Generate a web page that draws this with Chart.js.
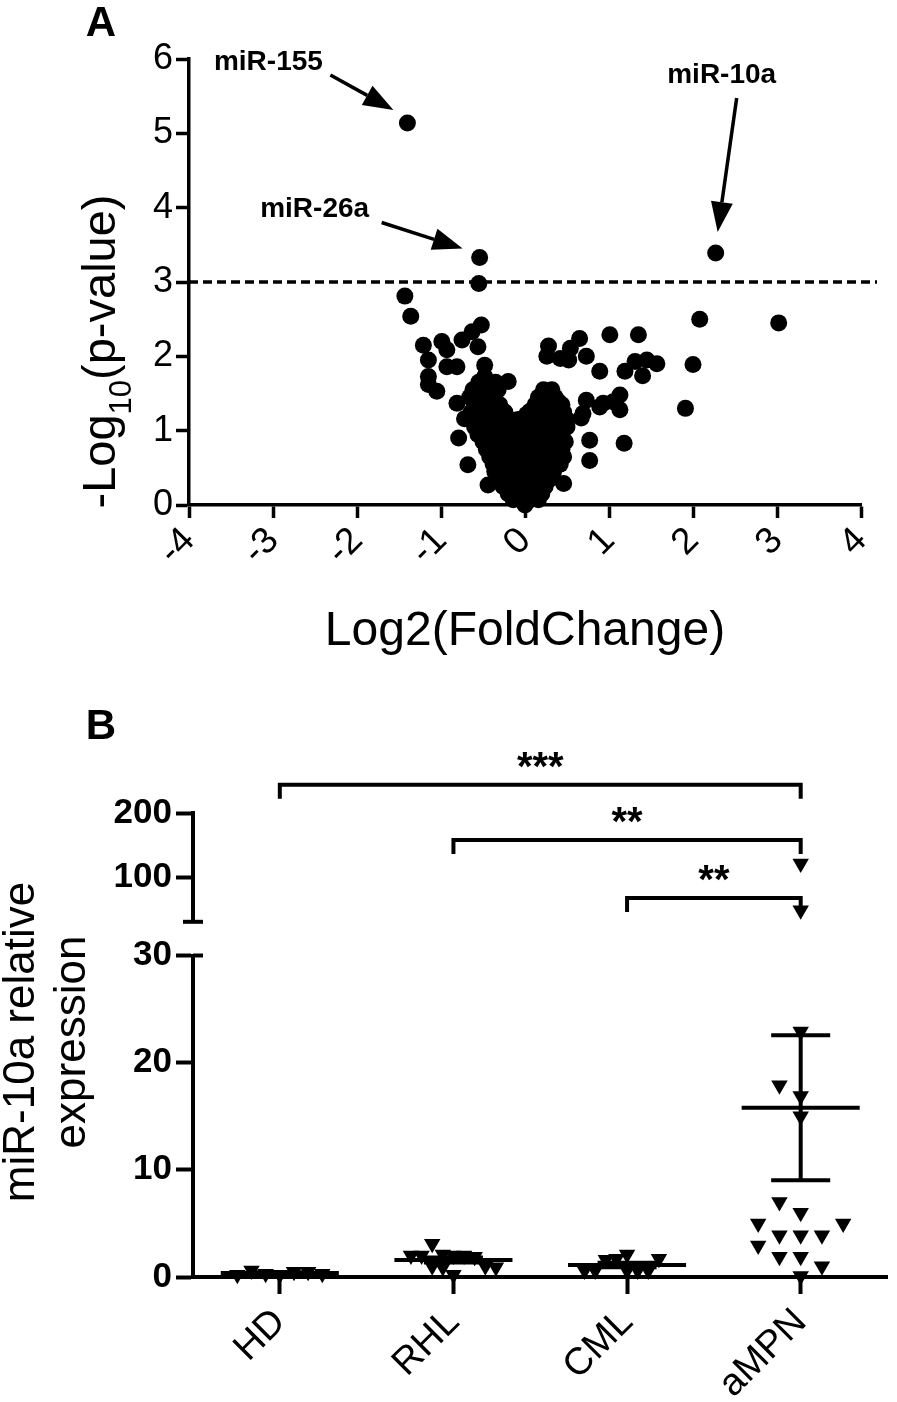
<!DOCTYPE html>
<html>
<head>
<meta charset="utf-8">
<script src="https://cdn.jsdelivr.net/npm/chart.js@4/dist/chart.umd.min.js"></script>
<style>
  html, body { margin: 0; padding: 0; background: #fff; }
  #page { position: relative; width: 897px; height: 1402px; overflow: hidden; }
  canvas { position: absolute; left: 0; }
</style>
</head>
<body>
<div id="page">
  <canvas id="volcano" width="897" height="656" style="top:0"></canvas>
  <canvas id="exprLow" width="897" height="702" style="top:700px"></canvas>
  <canvas id="exprHigh" width="897" height="260" style="top:700px"></canvas>
</div>
<script>
// ---- panel A : volcano plot ----
var foldTicks = [-4, -3, -2, -1, 0, 1, 2, 3, 4];
var pThreshold = 3;

// [log2 fold change, -log10 p]
var volcano = [
  [-1.40,5.14],[-0.54,3.33],[2.27,3.39],[-0.55,2.98],[-1.43,2.81],[-1.36,2.54],
  [2.08,2.50],[3.02,2.45],[2.00,1.89],[1.91,1.30],
  // left side
  [-0.52,2.42],[-0.63,2.33],[-0.75,2.22],[-0.99,2.20],[-1.21,2.15],[-0.93,2.09],[-0.56,2.13],
  [-1.15,1.95],[-0.93,1.86],[-0.81,1.86],[-0.48,1.88],[-1.15,1.73],[-1.15,1.62],[-1.05,1.53],
  [-0.20,1.66],[-0.81,1.37],[-0.72,1.16],[-0.79,0.90],[-0.68,0.54],[-0.44,0.27],[-0.58,1.55],[-0.48,1.73],
  // right side
  [1.01,2.29],[1.35,2.29],[0.65,2.24],[0.28,2.14],[0.54,2.11],[0.26,2.00],[0.42,1.97],[0.52,1.95],
  [0.73,2.00],[0.89,1.80],[1.19,1.80],[1.31,1.93],[1.45,1.95],[1.57,1.90],[1.40,1.74],
  [0.30,1.52],[0.40,1.39],[0.73,1.41],[0.93,1.37],[1.13,1.48],[1.13,1.28],[0.89,1.32],[1.05,1.39],
  [0.69,1.23],[0.67,1.17],[0.06,1.26],[0.02,1.22],[1.18,0.83],[0.77,0.87],[0.77,0.60],[0.46,0.29],
  // dense centre
  [-0.55,1.65],[-0.45,1.65],[-0.35,1.65],
  [-0.62,1.55],[-0.52,1.55],[-0.42,1.55],[-0.32,1.55],[0.22,1.55],[0.32,1.55],
  [-0.66,1.45],[-0.56,1.45],[-0.46,1.45],[-0.36,1.45],[0.16,1.45],[0.26,1.45],[0.36,1.45],
  [-0.60,1.35],[-0.50,1.35],[-0.40,1.35],[-0.30,1.35],[0.12,1.35],[0.22,1.35],[0.32,1.35],[0.44,1.35],
  [-0.64,1.25],[-0.54,1.25],[-0.44,1.25],[-0.34,1.25],[-0.24,1.25],[0.14,1.25],[0.24,1.25],[0.34,1.25],[0.46,1.25],
  [-0.58,1.15],[-0.48,1.15],[-0.38,1.15],[-0.28,1.15],[-0.18,1.15],[-0.08,1.15],[0.08,1.15],[0.18,1.15],[0.28,1.15],[0.38,1.15],[0.50,1.15],
  [-0.60,1.05],[-0.50,1.05],[-0.40,1.05],[-0.30,1.05],[-0.20,1.05],[-0.10,1.05],[0.00,1.05],[0.10,1.05],[0.20,1.05],[0.30,1.05],[0.40,1.05],[0.50,1.05],
  [-0.56,0.95],[-0.46,0.95],[-0.36,0.95],[-0.26,0.95],[-0.16,0.95],[-0.06,0.95],[0.04,0.95],[0.14,0.95],[0.24,0.95],[0.34,0.95],[0.44,0.95],
  [-0.50,0.85],[-0.40,0.85],[-0.30,0.85],[-0.20,0.85],[-0.10,0.85],[0.00,0.85],[0.10,0.85],[0.20,0.85],[0.30,0.85],[0.40,0.85],[0.48,0.85],
  [-0.46,0.75],[-0.36,0.75],[-0.26,0.75],[-0.16,0.75],[-0.06,0.75],[0.04,0.75],[0.14,0.75],[0.24,0.75],[0.34,0.75],[0.44,0.75],
  [-0.42,0.65],[-0.32,0.65],[-0.22,0.65],[-0.12,0.65],[-0.02,0.65],[0.08,0.65],[0.18,0.65],[0.28,0.65],[0.38,0.65],[0.46,0.65],
  [-0.38,0.55],[-0.28,0.55],[-0.18,0.55],[-0.08,0.55],[0.02,0.55],[0.12,0.55],[0.22,0.55],[0.32,0.55],[0.42,0.55],
  [-0.36,0.45],[-0.26,0.45],[-0.16,0.45],[-0.06,0.45],[0.04,0.45],[0.14,0.45],[0.24,0.45],[0.34,0.45],
  [-0.30,0.35],[-0.20,0.35],[-0.10,0.35],[0.00,0.35],[0.10,0.35],[0.20,0.35],[0.30,0.35],
  [-0.26,0.25],[-0.16,0.25],[-0.06,0.25],[0.04,0.25],[0.14,0.25],[0.24,0.25],
  [-0.20,0.15],[-0.10,0.15],[0.00,0.15],[0.10,0.15],[0.20,0.15],
  [-0.14,0.07],[-0.04,0.07],[0.06,0.07],[0.16,0.07],
  [0.00,0.00]
];

var callouts = [
  { name: 'miR-155', x: -1.40, y: 5.14 },
  { name: 'miR-26a', x: -0.54, y: 3.33 },
  { name: 'miR-10a', x: 2.27, y: 3.39 }
];
// pixel offsets from the marked point: label centre, arrow tail, arrow tip
var calloutLayout = {
  'miR-155': { label: [-139, -61], tail: [-77, -48], tip: [-14, -13] },
  'miR-26a': { label: [-165, -48], tail: [-98, -35], tip: [-17, -9] },
  'miR-10a': { label: [6, -178], tail: [21, -155], tip: [2, -21] }
};

// ---- panel B : miR-10a expression ----
var groups = ['HD', 'RHL', 'CML', 'aMPN'];
var hd   = [0.2, 0.3, 0.5, 0.6, 0.5, 0.2, 0.3];
var rhl  = [2.0, 0.9, 2.0, 1.0, 2.1, 1.9, 0.2, 3.1, 2.0, 1.0, 2.0, 0.9];
var cml  = [0.6, 1.7, 0.6, 1.6, 0.6, 2.1, 0.6, 1.7, 0.6];
var ampn = [22.9, 16.9, 17.9, 15.0, 6.0, 7.0, 3.9, 3.9, 3.9, 5.0, 5.0, 1.9, 1.9, 1.0, 2.95, 0.1, 121, 48];
var groupValues = [hd, rhl, cml, ampn];
var lowMax = 30;          // lower axis segment 0-30
var highRange = [30, 200]; // upper axis segment
var highTicks = [100, 200];
var brackets = [
  { from: 0, to: 3, label: '***', level: 244 },
  { from: 1, to: 3, label: '**', level: 158 },
  { from: 2, to: 3, label: '**', level: 67 }
];

var FONT = "'Liberation Sans', Arial, Helvetica, sans-serif";
Chart.defaults.font.family = FONT;
Chart.defaults.color = '#000';

function axisStyle(w, tl) {
  return {
    grid: { drawOnChartArea: false, tickLength: tl, tickWidth: w, tickColor: '#000', color: '#000' },
    border: { width: w, color: '#000' }
  };
}

function arrow(ctx, x1, y1, x2, y2) {
  var ang = Math.atan2(y2 - y1, x2 - x1), hl = 30, hw = 11;
  var bx = x2 - Math.cos(ang) * hl, by = y2 - Math.sin(ang) * hl;
  ctx.beginPath();
  ctx.moveTo(x1, y1);
  ctx.lineTo(bx, by);
  ctx.stroke();
  ctx.beginPath();
  ctx.moveTo(x2, y2);
  ctx.lineTo(bx + Math.sin(ang) * hw, by - Math.cos(ang) * hw);
  ctx.lineTo(bx - Math.sin(ang) * hw, by + Math.cos(ang) * hw);
  ctx.closePath();
  ctx.fill();
}

var volcanoDecor = {
  id: 'volcanoDecor',
  beforeDatasetsDraw: function(chart) {
    var ctx = chart.ctx, a = chart.chartArea, y = chart.scales.y.getPixelForValue(pThreshold);
    ctx.save();
    ctx.strokeStyle = '#000';
    ctx.lineWidth = 3.5;
    ctx.setLineDash([9, 5]);
    ctx.beginPath();
    ctx.moveTo(a.left, y);
    ctx.lineTo(a.right + 16, y);
    ctx.stroke();
    ctx.restore();
  },
  afterDatasetsDraw: function(chart) {
    var ctx = chart.ctx, sx = chart.scales.x, sy = chart.scales.y;
    ctx.save();
    ctx.fillStyle = '#000';
    ctx.strokeStyle = '#000';
    ctx.lineWidth = 3.5;
    ctx.font = 'bold 28px ' + FONT;
    ctx.textAlign = 'center';
    ctx.textBaseline = 'middle';
    callouts.forEach(function(c) {
      var px = sx.getPixelForValue(c.x), py = sy.getPixelForValue(c.y), L = calloutLayout[c.name];
      ctx.fillText(c.name, px + L.label[0], py + L.label[1]);
      arrow(ctx, px + L.tail[0], py + L.tail[1], px + L.tip[0], py + L.tip[1]);
    });
    // panel letter
    ctx.font = 'bold 42px ' + FONT;
    ctx.fillText('A', 101, 24);
    // y title with subscript
    ctx.translate(115, 351.5);
    ctx.rotate(-Math.PI / 2);
    ctx.textAlign = 'left';
    ctx.textBaseline = 'alphabetic';
    var big = '47px ' + FONT, small = '31px ' + FONT;
    ctx.font = big; var w1 = ctx.measureText('-Log').width, w3 = ctx.measureText('(p-value)').width;
    ctx.font = small; var w2 = ctx.measureText('10').width;
    var x0 = -(w1 + w2 + w3) / 2;
    ctx.font = big; ctx.fillText('-Log', x0, 0);
    ctx.font = small; ctx.fillText('10', x0 + w1, 16);
    ctx.font = big; ctx.fillText('(p-value)', x0 + w1 + w2, 0);
    ctx.restore();
  }
};

new Chart(document.getElementById('volcano'), {
  type: 'scatter',
  data: {
    datasets: [{
      data: volcano.map(function(p) { return { x: p[0], y: p[1] }; }),
      backgroundColor: '#000', borderWidth: 0, pointRadius: 8.5, pointHoverRadius: 8.5, clip: false
    }]
  },
  options: {
    responsive: false, animation: false, events: [],
    layout: { padding: { left: 0, right: 36, top: 59, bottom: 0 } },
    plugins: { legend: { display: false }, tooltip: { enabled: false } },
    scales: {
      x: Object.assign(axisStyle(3.5, 13), {
        type: 'linear', min: -4, max: 4,
        afterBuildTicks: function(s) { s.ticks = foldTicks.map(function(v) { return { value: v }; }); },
        afterFit: function(s) { s.height = 151; },
        ticks: { minRotation: 45, maxRotation: 45, autoSkip: false, font: { size: 37 }, padding: 1 },
        title: { display: true, text: 'Log2(FoldChange)', font: { size: 48, lineHeight: 1 }, padding: { top: 0, bottom: 0 } }
      }),
      y: Object.assign(axisStyle(3.5, 13), {
        min: 0, max: 6,
        afterFit: function(s) { s.width = 189; },
        ticks: { stepSize: 1, font: { size: 36 }, padding: 3 }
      })
    }
  },
  plugins: [volcanoDecor]
});

// ---- panel B charts ----
function meanSem(a) {
  var n = a.length, m = a.reduce(function(s, v) { return s + v; }, 0) / n;
  var sd = Math.sqrt(a.reduce(function(s, v) { return s + (v - m) * (v - m); }, 0) / (n - 1));
  return [m, sd / Math.sqrt(n)];
}

var MEAN_HALF = 0.34, CAP_HALF = 0.17;
var summarySets = [];
groupValues.forEach(function(vals, gi) {
  var ms = meanSem(vals), m = ms[0], s = ms[1];
  [
    [[gi - MEAN_HALF, m], [gi + MEAN_HALF, m]],
    [[gi, m - s], [gi, m + s]],
    [[gi - CAP_HALF, m - s], [gi + CAP_HALF, m - s]],
    [[gi - CAP_HALF, m + s], [gi + CAP_HALF, m + s]]
  ].forEach(function(seg) {
    summarySets.push({
      data: seg.map(function(p) { return { x: p[0], y: p[1] }; }),
      showLine: true, borderColor: '#000', borderWidth: 4, pointRadius: 0, clip: false
    });
  });
});

function triangleSet() {
  return {
    data: [], pointStyle: 'triangle', rotation: 180, pointRadius: 9.5, pointHoverRadius: 9.5,
    backgroundColor: '#000', borderWidth: 0, clip: false
  };
}

var lowDecor = {
  id: 'lowDecor',
  afterDraw: function(chart) {
    var ctx = chart.ctx, a = chart.chartArea;
    ctx.save();
    ctx.strokeStyle = '#000';
    ctx.lineWidth = 4;
    ctx.beginPath();
    ctx.moveTo(a.left, a.top);
    ctx.lineTo(a.left + 10, a.top);
    ctx.stroke();
    ctx.fillStyle = '#000';
    ctx.font = '44px ' + FONT;
    ctx.textAlign = 'center';
    ctx.textBaseline = 'alphabetic';
    [['miR-10a relative', 33.5], ['expression', 85]].forEach(function(l) {
      ctx.save();
      ctx.translate(l[1], 342);
      ctx.rotate(-Math.PI / 2);
      ctx.fillText(l[0], 0, 0);
      ctx.restore();
    });
    ctx.restore();
  }
};

var highDecor = {
  id: 'highDecor',
  afterDraw: function(chart) {
    var ctx = chart.ctx, a = chart.chartArea, sx = chart.scales.x, sy = chart.scales.y;
    ctx.save();
    ctx.strokeStyle = '#000';
    ctx.fillStyle = '#000';
    ctx.lineWidth = 4;
    ctx.beginPath();
    ctx.moveTo(a.left - 10, a.bottom);
    ctx.lineTo(a.left + 10, a.bottom);
    ctx.stroke();
    ctx.font = 'bold 40px ' + FONT;
    ctx.textAlign = 'center';
    ctx.textBaseline = 'alphabetic';
    brackets.forEach(function(b) {
      var x1 = sx.getPixelForValue(b.from), x2 = sx.getPixelForValue(b.to), y = sy.getPixelForValue(b.level);
      ctx.beginPath();
      ctx.moveTo(x1, y + 14);
      ctx.lineTo(x1, y);
      ctx.lineTo(x2, y);
      ctx.lineTo(x2, y + 14);
      ctx.stroke();
      ctx.fillText(b.label, (x1 + x2) / 2, y - 5);
    });
    ctx.font = 'bold 42px ' + FONT;
    ctx.textBaseline = 'middle';
    ctx.fillText('B', 101, 27);
    ctx.restore();
  }
};

var low = new Chart(document.getElementById('exprLow'), {
  type: 'scatter',
  data: { datasets: [triangleSet()].concat(summarySets) },
  options: {
    responsive: false, animation: false, events: [],
    layout: { padding: { left: 0, right: 1, top: 255.5, bottom: 0 } },
    plugins: { legend: { display: false }, tooltip: { enabled: false } },
    scales: {
      x: Object.assign(axisStyle(4, 17), {
        type: 'linear', min: -0.5, max: 3.5,
        afterBuildTicks: function(s) { s.ticks = groups.map(function(g, i) { return { value: i }; }); },
        afterFit: function(s) { s.height = 125; },
        ticks: { minRotation: 45, maxRotation: 45, autoSkip: false, font: { size: 38 }, padding: 6,
                 callback: function(v) { return groups[v]; } }
      }),
      y: Object.assign(axisStyle(4, 17), {
        min: 0, max: lowMax,
        afterFit: function(s) { s.width = 193; },
        ticks: { stepSize: 10, font: { size: 35, weight: 'bold' }, padding: 4 }
      })
    }
  },
  plugins: [lowDecor]
});

var high = new Chart(document.getElementById('exprHigh'), {
  type: 'scatter',
  data: { datasets: [triangleSet()] },
  options: {
    responsive: false, animation: false, events: [],
    layout: { padding: { left: 0, right: 1, top: 113, bottom: 38.2 } },
    plugins: { legend: { display: false }, tooltip: { enabled: false } },
    scales: {
      x: { type: 'linear', min: -0.5, max: 3.5, display: false },
      y: Object.assign(axisStyle(4, 17), {
        min: highRange[0], max: highRange[1],
        afterBuildTicks: function(s) { s.ticks = highTicks.map(function(v) { return { value: v }; }); },
        afterFit: function(s) { s.width = 193; },
        ticks: { font: { size: 35, weight: 'bold' }, padding: 4 }
      })
    }
  },
  plugins: [highDecor]
});

// spread points of a group sideways so markers at similar heights do not sit on top of each other
var SLOT_PX = 21.5, MAX_SPREAD_PX = 43, CLASH_PX = 12;
function swarm(ys) {
  var placed = [];
  return ys.map(function(y) {
    for (var k = 0; ; k++) {
      var slot = k === 0 ? 0 : (k % 2 ? -(k + 1) / 2 : k / 2);
      var hit = placed.some(function(p) { return p.slot === slot && Math.abs(p.y - y) < CLASH_PX; });
      if (!hit) { placed.push({ slot: slot, y: y }); return slot; }
    }
  });
}

(function placePoints() {
  var xs = low.scales.x, yl = low.scales.y, yh = high.scales.y;
  var catPx = xs.getPixelForValue(1) - xs.getPixelForValue(0);
  var lowPts = [], highPts = [];
  groupValues.forEach(function(vals, gi) {
    var ys = vals.map(function(v) { return v > lowMax ? yh.getPixelForValue(v) : yl.getPixelForValue(v); });
    var slots = swarm(ys);
    var maxOff = Math.max.apply(null, slots.map(Math.abs)) * SLOT_PX;
    var k = maxOff > MAX_SPREAD_PX ? MAX_SPREAD_PX / maxOff : 1;
    vals.forEach(function(v, i) {
      var p = { x: gi + slots[i] * SLOT_PX * k / catPx, y: v };
      (v > lowMax ? highPts : lowPts).push(p);
    });
  });
  low.data.datasets[0].data = lowPts;
  high.data.datasets[0].data = highPts;
  low.update();
  high.update();
})();
</script>
</body>
</html>
